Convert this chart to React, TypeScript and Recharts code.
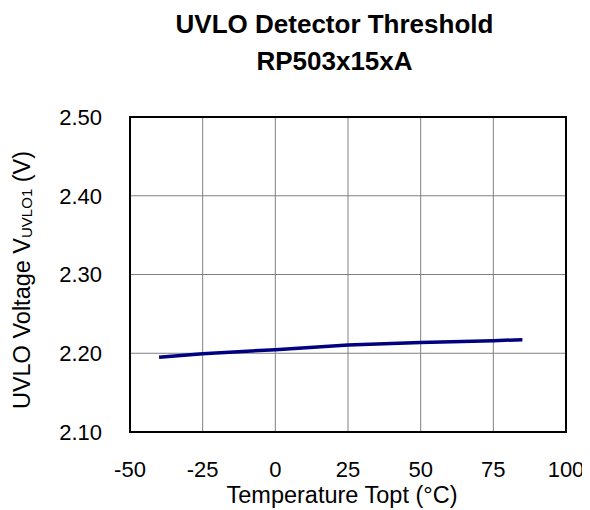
import React from 'react';
import { LineChart, Line, XAxis, YAxis, CartesianGrid, ReferenceArea } from 'recharts';

// temperature (°C) and UVLO detector threshold (V)
const temps = [-40, -25, 0, 25, 50, 75, 85];
const uvlo = [2.195, 2.1995, 2.2045, 2.2105, 2.2135, 2.216, 2.2172];
const xTicks = [-50, -25, 0, 25, 50, 75, 100];
const yTicks = [2.1, 2.2, 2.3, 2.4, 2.5];

const data = temps.map((t, i) => ({ t, v: uvlo[i] }));

const FONT = '"Liberation Sans", Arial, sans-serif';

const YLabel = () => {
  const cx = 22;
  const cy = 280;
  return (
    <text
      x={cx}
      y={cy}
      transform={`rotate(-90 ${cx} ${cy})`}
      textAnchor="middle"
      dominantBaseline="central"
      fontFamily={FONT}
      fontSize={23.5}
      fill="#000"
    >
      UVLO Voltage V
      <tspan fontSize={15} dy={4}>UVLO1</tspan>
      <tspan dy={-4}> (V)</tspan>
    </text>
  );
};

const XLabel = () => (
  <text x={342} y={503} textAnchor="middle" fontFamily={FONT} fontSize={23.5} fill="#000">
    Temperature Topt (°C)
  </text>
);

export default function App() {
  return (
    <div style={{ position: 'relative', width: 590, height: 510, margin: '-8px -8px 0 -8px', background: '#fff', fontFamily: FONT }}>
      <div style={{ position: 'absolute', left: 0, width: 669, top: 6, textAlign: 'center', fontWeight: 'bold', fontSize: 26, lineHeight: '37px' }}>
        UVLO Detector Threshold
        <br />
        RP503x15xA
      </div>
      <LineChart width={590} height={510} data={data} margin={{ top: 117, right: 24, left: 0, bottom: 0 }}>
        <CartesianGrid stroke="#808080" strokeWidth={1} />
        <XAxis
          dataKey="t"
          type="number"
          domain={[-50, 100]}
          ticks={xTicks}
          height={78}
          axisLine={false}
          tickLine={false}
          tickMargin={23}
          tick={{ fill: '#000', fontSize: 22, fontFamily: FONT }}
          label={<XLabel />}
        />
        <YAxis
          type="number"
          domain={[2.1, 2.5]}
          ticks={yTicks}
          width={130}
          axisLine={false}
          tickLine={false}
          tickMargin={22}
          tickFormatter={(v: number) => v.toFixed(2)}
          tick={{ fill: '#000', fontSize: 22, fontFamily: FONT }}
          label={<YLabel />}
        />
        <ReferenceArea x1={-50} x2={100} y1={2.1} y2={2.5} fill="none" stroke="#000" strokeWidth={2} fillOpacity={0} ifOverflow="visible" />
        <Line type="linear" dataKey="v" stroke="#000080" strokeWidth={3.5} dot={false} isAnimationActive={false} />
      </LineChart>
    </div>
  );
}
